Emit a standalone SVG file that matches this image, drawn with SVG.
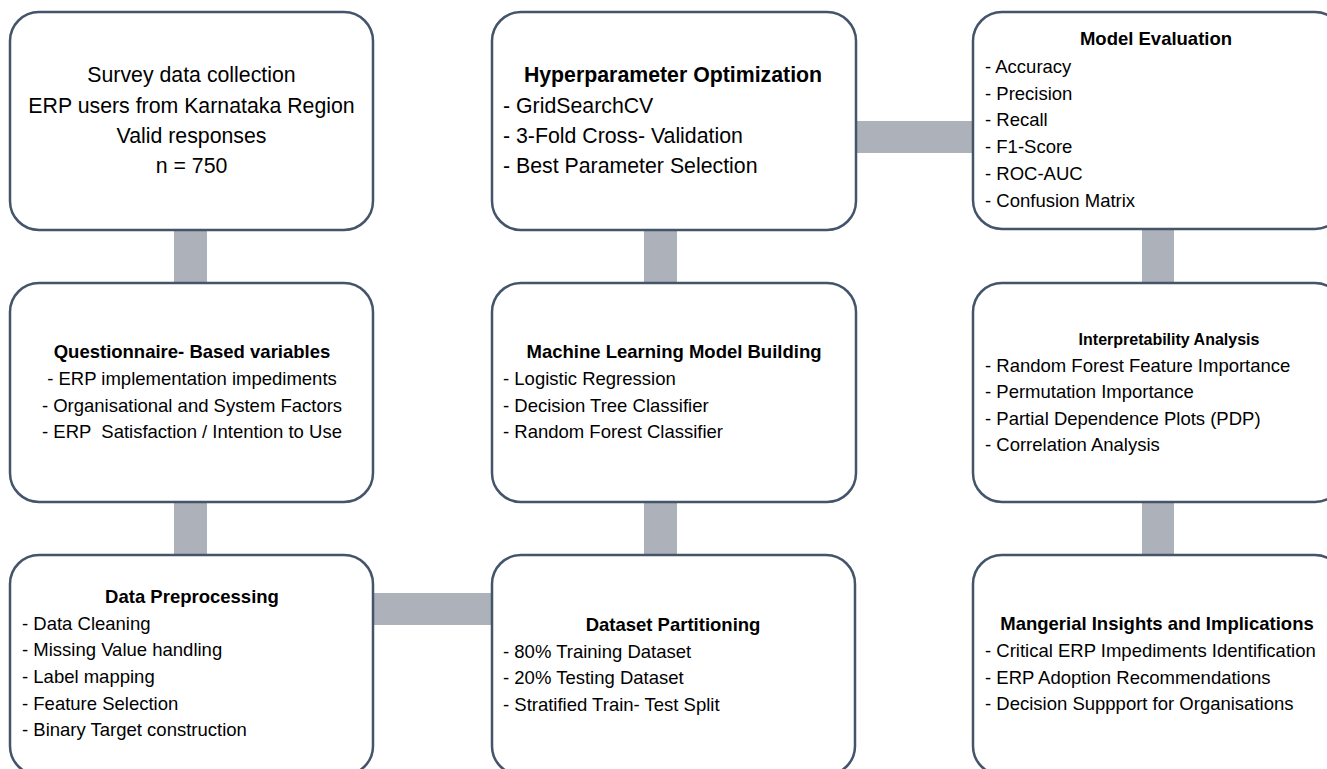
<svg xmlns="http://www.w3.org/2000/svg" width="1327" height="769" viewBox="0 0 1327 769">
  <style>
    .box { fill: #ffffff; stroke: #44546a; stroke-width: 2.5; }
    .bar { fill: #adb1b9; }
    text { font-family: "Liberation Sans", Arial, sans-serif; fill: #000000; white-space: pre; }
    .big { font-size: 21.3px; }
    .sm { font-size: 18.5px; }
    .xs { font-size: 16px; }
    .b { font-weight: bold; }
    .c { text-anchor: middle; }
  </style>

  <rect width="1327" height="769" fill="#ffffff"/>

  <!-- connectors: thick grey bars between the stages -->
  <g id="connectors">
    <rect class="bar" x="174" y="229" width="33" height="55"/>
    <rect class="bar" x="174" y="501" width="33" height="55"/>
    <rect class="bar" x="372" y="593" width="121" height="32"/>
    <rect class="bar" x="644" y="501" width="33" height="55"/>
    <rect class="bar" x="644" y="229" width="33" height="55"/>
    <rect class="bar" x="855" y="121" width="119" height="32"/>
    <rect class="bar" x="1142" y="229" width="32" height="55"/>
    <rect class="bar" x="1142" y="501" width="32" height="55"/>
  </g>

  <!-- column 1 -->
  <g id="survey">
    <rect class="box" x="10" y="12" width="363" height="218" rx="29"/>
    <text class="big c" x="191.5" y="82">Survey data collection</text>
    <text class="big c" x="191.5" y="112.5">ERP users from Karnataka Region</text>
    <text class="big c" x="191.5" y="143">Valid responses</text>
    <text class="big c" x="191.5" y="173">n = 750</text>
  </g>

  <g id="variables">
    <rect class="box" x="10" y="283" width="363" height="219" rx="29"/>
    <text class="sm b c" x="192" y="358">Questionnaire- Based variables</text>
    <text class="sm c" x="192" y="385">- ERP implementation impediments</text>
    <text class="sm c" x="192" y="411.5">- Organisational and System Factors</text>
    <text class="sm c" x="192" y="438">- ERP  Satisfaction / Intention to Use</text>
  </g>

  <g id="preprocessing">
    <rect class="box" x="10" y="555" width="363" height="220" rx="29"/>
    <text class="sm b c" x="192" y="603">Data Preprocessing</text>
    <text class="sm" x="22" y="629.5">- Data Cleaning</text>
    <text class="sm" x="22" y="656">- Missing Value handling</text>
    <text class="sm" x="22" y="683">- Label mapping</text>
    <text class="sm" x="22" y="709.5">- Feature Selection</text>
    <text class="sm" x="22" y="736">- Binary Target construction</text>
  </g>

  <!-- column 2 -->
  <g id="hyperparameter">
    <rect class="box" x="492" y="12" width="364" height="218" rx="29"/>
    <text class="big b c" x="673" y="82">Hyperparameter Optimization</text>
    <text class="big" x="503" y="112.5">- GridSearchCV</text>
    <text class="big" x="503" y="143">- 3-Fold Cross- Validation</text>
    <text class="big" x="503" y="173">- Best Parameter Selection</text>
  </g>

  <g id="model-building">
    <rect class="box" x="492" y="283" width="364" height="219" rx="29"/>
    <text class="sm b c" x="674" y="358">Machine Learning Model Building</text>
    <text class="sm" x="503" y="385">- Logistic Regression</text>
    <text class="sm" x="503" y="411.5">- Decision Tree Classifier</text>
    <text class="sm" x="503" y="438">- Random Forest Classifier</text>
  </g>

  <g id="partitioning">
    <rect class="box" x="492" y="555" width="363" height="220" rx="29"/>
    <text class="sm b c" x="673" y="631">Dataset Partitioning</text>
    <text class="sm" x="503" y="657.5">- 80% Training Dataset</text>
    <text class="sm" x="503" y="684">- 20% Testing Dataset</text>
    <text class="sm" x="503" y="710.5">- Stratified Train- Test Split</text>
  </g>

  <!-- column 3 -->
  <g id="evaluation">
    <rect class="box" x="973" y="12" width="371" height="217" rx="29"/>
    <text class="sm b c" x="1156" y="45">Model Evaluation</text>
    <text class="sm" x="985" y="72.5">- Accuracy</text>
    <text class="sm" x="985" y="99.5">- Precision</text>
    <text class="sm" x="985" y="126">- Recall</text>
    <text class="sm" x="985" y="153">- F1-Score</text>
    <text class="sm" x="985" y="179.5">- ROC-AUC</text>
    <text class="sm" x="985" y="206.5">- Confusion Matrix</text>
  </g>

  <g id="interpretability">
    <rect class="box" x="973" y="283" width="371" height="219" rx="29"/>
    <text class="xs b c" x="1169" y="344.5">Interpretability Analysis</text>
    <text class="sm" x="985" y="371.5">- Random Forest Feature Importance</text>
    <text class="sm" x="985" y="398">- Permutation Importance</text>
    <text class="sm" x="985" y="424.5">- Partial Dependence Plots (PDP)</text>
    <text class="sm" x="985" y="451">- Correlation Analysis</text>
  </g>

  <g id="insights">
    <rect class="box" x="973" y="555" width="371" height="220" rx="29"/>
    <text class="sm b c" x="1157" y="630">Mangerial Insights and Implications</text>
    <text class="sm" x="985" y="657">- Critical ERP Impediments Identification</text>
    <text class="sm" x="985" y="683.5">- ERP Adoption Recommendations</text>
    <text class="sm" x="985" y="710">- Decision Suppport for Organisations</text>
  </g>
</svg>
